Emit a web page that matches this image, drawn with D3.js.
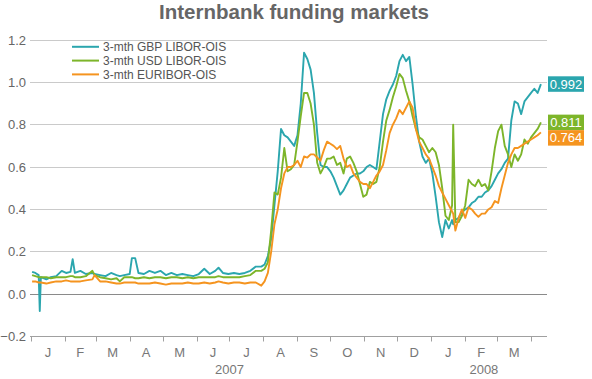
<!DOCTYPE html>
<html><head><meta charset="utf-8">
<script src="https://cdn.jsdelivr.net/npm/d3@7"></script>
<style>body{margin:0;background:#fff}svg{display:block;font-family:Arial,"Liberation Sans",sans-serif}</style>
</head><body><svg id="c" width="592" height="379"></svg>
<script>
const dates = [
"2007-01-02","2007-01-05","2007-01-08","2007-01-09","2007-01-10","2007-01-15","2007-01-19","2007-01-24","2007-01-29",
"2007-02-02","2007-02-06","2007-02-08","2007-02-10","2007-02-15","2007-02-20","2007-02-26","2007-02-28",
"2007-03-05","2007-03-10","2007-03-15","2007-03-20","2007-03-23","2007-03-27",
"2007-04-01","2007-04-03","2007-04-06","2007-04-09","2007-04-14","2007-04-19","2007-04-24","2007-04-29",
"2007-05-04","2007-05-09","2007-05-14","2007-05-19","2007-05-24","2007-05-29",
"2007-06-03","2007-06-08","2007-06-13","2007-06-18","2007-06-21","2007-06-25","2007-06-30",
"2007-07-05","2007-07-10","2007-07-15","2007-07-20","2007-07-25",
"2007-07-30",
"2007-08-02","2007-08-05","2007-08-08","2007-08-11","2007-08-14","2007-08-17","2007-08-20","2007-08-23","2007-08-26","2007-08-29",
"2007-09-01","2007-09-04","2007-09-07","2007-09-10","2007-09-13","2007-09-16","2007-09-19","2007-09-22","2007-09-25","2007-09-28",
"2007-10-01","2007-10-04","2007-10-07","2007-10-10","2007-10-13","2007-10-16","2007-10-19","2007-10-22","2007-10-25","2007-10-28","2007-10-31",
"2007-11-03","2007-11-06","2007-11-09","2007-11-12","2007-11-15","2007-11-18","2007-11-21","2007-11-24","2007-11-27","2007-11-30",
"2007-12-03","2007-12-06","2007-12-09","2007-12-12","2007-12-15","2007-12-18","2007-12-21","2007-12-24","2007-12-27","2007-12-30",
"2008-01-02","2008-01-05","2008-01-08","2008-01-11","2008-01-14","2008-01-17","2008-01-20","2008-01-21","2008-01-23","2008-01-26","2008-01-29",
"2008-02-01","2008-02-04","2008-02-07","2008-02-10","2008-02-13","2008-02-16","2008-02-19","2008-02-22","2008-02-25","2008-02-28",
"2008-03-02","2008-03-05","2008-03-08","2008-03-11","2008-03-14","2008-03-17","2008-03-20","2008-03-23","2008-03-26","2008-03-29",
"2008-04-01","2008-04-04","2008-04-07","2008-04-10"
];
const gbp = [
0.105,0.10,0.09,-0.08,0.08,0.07,0.08,0.085,0.11,
0.10,0.105,0.165,0.10,0.11,0.095,0.10,0.095,
0.09,0.085,0.10,0.09,0.085,0.09,
0.095,0.17,0.17,0.10,0.095,0.11,0.10,0.11,
0.09,0.10,0.09,0.095,0.09,0.085,
0.095,0.12,0.095,0.11,0.125,0.10,0.095,
0.10,0.095,0.10,0.11,0.13,
0.13,
0.14,0.18,0.26,0.42,0.58,0.78,0.75,0.74,0.72,0.70,
0.75,0.90,1.14,1.11,1.06,0.95,0.76,0.61,0.60,0.60,
0.58,0.55,0.51,0.47,0.49,0.52,0.55,0.56,0.57,0.57,0.58,
0.60,0.61,0.60,0.59,0.72,0.85,0.92,0.96,0.99,1.03,
1.10,1.13,1.10,1.12,0.99,0.84,0.72,0.65,0.62,0.64,
0.57,0.46,0.34,0.27,0.35,0.31,0.35,0.33,0.35,0.36,0.39,
0.40,0.41,0.43,0.44,0.46,0.46,0.48,0.49,0.51,0.54,
0.57,0.59,0.62,0.64,0.82,0.91,0.90,0.85,0.91,0.93,
0.95,0.97,0.95,0.992
];
const usd = [
0.09,0.085,0.08,0.08,0.08,0.08,0.075,0.08,0.08,
0.08,0.085,0.085,0.08,0.08,0.085,0.11,0.09,
0.08,0.075,0.07,0.075,0.06,0.08,
0.08,0.08,0.075,0.075,0.08,0.075,0.08,0.08,
0.075,0.08,0.08,0.075,0.08,0.075,
0.08,0.08,0.08,0.08,0.085,0.08,0.08,
0.08,0.08,0.085,0.09,0.11,
0.11,
0.12,0.15,0.30,0.48,0.47,0.55,0.69,0.58,0.59,0.61,
0.72,0.84,0.95,0.95,0.90,0.80,0.62,0.57,0.60,0.64,
0.64,0.65,0.61,0.62,0.57,0.64,0.65,0.62,0.58,0.52,0.46,
0.47,0.53,0.52,0.53,0.60,0.72,0.82,0.87,0.93,0.98,
1.04,1.02,0.96,0.91,0.84,0.78,0.74,0.73,0.70,0.67,
0.69,0.67,0.61,0.50,0.37,0.35,0.42,0.80,0.34,0.34,0.37,
0.42,0.54,0.52,0.51,0.54,0.51,0.52,0.49,0.58,0.69,
0.77,0.80,0.70,0.66,0.60,0.66,0.63,0.66,0.73,0.71,
0.74,0.76,0.78,0.811
];
const eur = [
0.06,0.06,0.055,0.055,0.055,0.05,0.055,0.06,0.06,
0.065,0.06,0.06,0.06,0.06,0.065,0.07,0.09,
0.06,0.06,0.055,0.05,0.05,0.055,
0.055,0.055,0.055,0.05,0.05,0.05,0.055,0.05,
0.045,0.05,0.05,0.05,0.055,0.05,
0.05,0.055,0.05,0.055,0.06,0.055,0.05,
0.055,0.055,0.05,0.055,0.055,
0.04,
0.06,0.10,0.20,0.33,0.40,0.50,0.57,0.60,0.60,0.61,
0.63,0.60,0.65,0.645,0.66,0.66,0.645,0.63,0.68,0.72,
0.71,0.70,0.685,0.70,0.64,0.60,0.61,0.57,0.55,0.53,0.52,
0.52,0.50,0.53,0.56,0.58,0.61,0.68,0.76,0.80,0.83,
0.87,0.85,0.88,0.91,0.88,0.78,0.72,0.69,0.66,0.64,
0.60,0.56,0.51,0.48,0.45,0.42,0.39,0.38,0.30,0.36,0.40,
0.36,0.41,0.40,0.38,0.365,0.38,0.38,0.40,0.41,0.44,
0.43,0.50,0.56,0.62,0.66,0.69,0.69,0.70,0.71,0.72,
0.73,0.74,0.75,0.764
];
const seriesNames = ["3-mth GBP LIBOR-OIS","3-mth USD LIBOR-OIS","3-mth EURIBOR-OIS"];
const seriesColors = ["#2ba6ae","#7db52a","#f5941f"];
const yTicks = [-0.2,0,0.2,0.4,0.6,0.8,1.0,1.2];
const monthLabels = ["J","F","M","A","M","J","J","A","S","O","N","D","J","F","M"];
const yearLabels = ["2007","2008"];
const yearDates = ["2007-07-01","2008-02-18"];
const title = "Internbank funding markets";

const parse = d3.timeParse("%Y-%m-%d");
const svg = d3.select("#c");
const x = d3.scaleTime().domain([parse("2007-01-01"), parse("2008-04-15")]).range([31, 546.4]);
const y = d3.scaleLinear().domain([-0.2, 1.2]).range([336.5, 40]);
const xL = 30, xR = 547;

svg.append("text").attr("x", 294).attr("y", 19).attr("text-anchor","middle")
  .style("font-size","20.5px").style("font-weight","bold").attr("fill","#666").text(title);

// gridlines
svg.append("g").selectAll("line").data(yTicks).join("line")
  .attr("x1", xL).attr("x2", xR).attr("y1", d => y(d)).attr("y2", d => y(d))
  .attr("stroke", d => d === 0 ? "#8a8a8a" : (d === -0.2 ? "#a0a0a0" : "#cacaca")).attr("stroke-width", 1)
  .attr("shape-rendering","crispEdges");
svg.append("g").selectAll("text").data(yTicks).join("text")
  .attr("x", 26).attr("y", d => y(d)).attr("dy","0.35em").attr("text-anchor","end")
  .style("font-size","13px").attr("fill","#666").text(d => d3.format(".1f")(d));

// x axis ticks
const months = d3.timeMonth.range(parse("2007-01-01"), parse("2008-04-02"));
svg.append("g").selectAll("line").data(months).join("line")
  .attr("x1", d => Math.round(x(d)) + 0.5).attr("x2", d => Math.round(x(d)) + 0.5)
  .attr("y1", y(-0.2)).attr("y2", y(-0.2) + 5).attr("stroke", "#a0a0a0");
const mids = months.slice(0, monthLabels.length).map(d => new Date((+d + +d3.timeMonth.offset(d,1)) / 2));
svg.append("g").selectAll("text").data(mids).join("text")
  .attr("x", d => x(d)).attr("y", 357).attr("text-anchor","middle")
  .style("font-size","13px").attr("fill","#777").text((d,i) => monthLabels[i]);
svg.append("g").selectAll("text").data(yearLabels).join("text")
  .attr("x", (d,i) => x(parse(yearDates[i]))).attr("y", 374).attr("text-anchor","middle")
  .style("font-size","13px").attr("fill","#777").text(d => d);

// lines
const series = [gbp, usd, eur];
const line = d3.line().x((d,i) => x(parse(dates[i]))).y(d => y(d));
series.forEach((s, k) => {
  svg.append("path").datum(s).attr("d", line).attr("fill","none")
    .attr("stroke", seriesColors[k]).attr("stroke-width", 1.9).attr("stroke-linejoin","round");
});

// legend
const lg = svg.append("g");
seriesNames.forEach((n, k) => {
  const yy = 46.8 + k * 13.8;
  lg.append("line").attr("x1", 72).attr("x2", 99).attr("y1", yy).attr("y2", yy)
    .attr("stroke", seriesColors[k]).attr("stroke-width", 2);
  lg.append("text").attr("x", 103).attr("y", yy).attr("dy","0.35em")
    .style("font-size","12px").attr("fill","#555").text(n);
});

// end labels
const ends = series.map((s, k) => ({v: s[s.length-1], c: seriesColors[k], y: y(s[s.length-1])}));
const sorted = ends.slice().sort((a,b) => a.y - b.y);
const h = 15.5;
for (let i = 1; i < sorted.length; i++) {
  if (sorted[i].y - sorted[i-1].y < h) sorted[i].y = sorted[i-1].y + h;
}
ends.forEach(e => {
  svg.append("rect").attr("x", 548).attr("y", e.y - h/2).attr("width", 36).attr("height", h).attr("fill", e.c);
  svg.append("text").attr("x", 566).attr("y", e.y).attr("dy","0.35em").attr("text-anchor","middle")
    .style("font-size","13px").attr("fill","#fff").text(d3.format(".3f")(e.v));
});
</script></body></html>
